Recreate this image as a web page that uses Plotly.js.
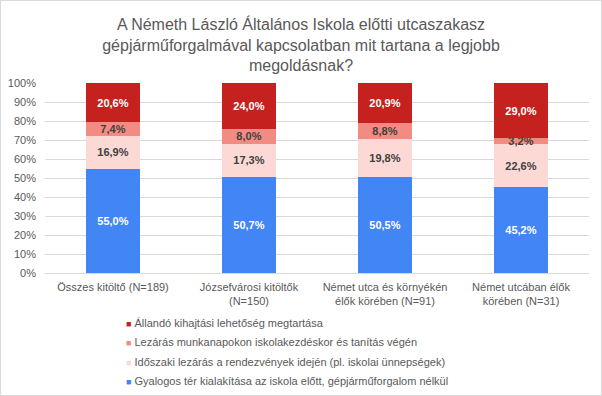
<!DOCTYPE html>
<html>
<head>
<meta charset="utf-8">
<script src="https://cdn.plot.ly/plotly-3.0.1.min.js"></script>
<style>
  html, body { margin: 0; padding: 0; background: #fff; }
  #wrap { width: 602px; height: 396px; box-sizing: border-box; border: 1px solid #d9d9d9; }
  #chart { width: 600px; height: 394px; }
</style>
</head>
<body>
<div id="wrap"><div id="chart"></div></div>
<script>
const categories = [
  "Összes kitöltő (N=189)",
  "Józsefvárosi kitöltők<br>(N=150)",
  "Német utca és környékén<br>élők körében (N=91)",
  "Német utcában élők<br>körében (N=31)"
];
const seriesNames = [
  "Gyalogos tér kialakítása az iskola előtt, gépjárműforgalom nélkül",
  "Időszaki lezárás a rendezvények idején (pl. iskolai ünnepségek)",
  "Lezárás munkanapokon iskolakezdéskor és tanítás végén",
  "Állandó kihajtási lehetőség megtartása"
];
const gyalogos = [55.0, 50.7, 50.5, 45.2];
const idoszaki = [16.9, 17.3, 19.8, 22.6];
const lezaras  = [7.4, 8.0, 8.8, 3.2];
const allando  = [20.6, 24.0, 20.9, 29.0];
const seriesValues = [gyalogos, idoszaki, lezaras, allando];
const colors = ["#4285f4", "#fdd9d6", "#f28b82", "#c5221f"];
const textColors = ["#ffffff", "#404040", "#404040", "#ffffff"];
const yTicks = [0,10,20,30,40,50,60,70,80,90,100];

const traces = seriesValues.map((vals, i) => ({
  type: "bar",
  name: seriesNames[i],
  x: categories,
  y: vals,
  marker: { color: colors[i], line: { width: 0 } },
  texttemplate: "%{y:.1f}%",
  textposition: "inside",
  insidetextanchor: "middle",
  textangle: 0,
  textfont: { family: "Liberation Sans, Arial, sans-serif", size: 11, color: textColors[i], weight: "bold" },
  hoverinfo: "skip",
  showlegend: false
}));

// legend drawn as annotations (top: Állandó ... bottom: Gyalogos)
const legendOrder = [3, 2, 1, 0];
const plotH = 190;
const legendAnn = legendOrder.map((si, k) => ({
  xref: "paper", yref: "paper",
  x: 0.146, y: -(50 + k * 19.4) / plotH,
  xanchor: "left", yanchor: "middle",
  showarrow: false, align: "left",
  text: '<span style="color:' + colors[si] + ';font-size:9px">■</span> ' + seriesNames[si],
  font: { family: "Liberation Sans, Arial, sans-serif", size: 11, color: "#595959" }
}));

const layout = {
  width: 600, height: 394,
  margin: { l: 44, r: 12, t: 82, b: 122 },
  paper_bgcolor: "#ffffff", plot_bgcolor: "#ffffff",
  separators: ", ",
  barmode: "stack",
  bargap: 0.6,
  title: {
    text: "A Németh László Általános Iskola előtti utcaszakasz<br>gépjárműforgalmával kapcsolatban mit tartana a legjobb<br>megoldásnak?",
    font: { family: "Liberation Sans, Arial, sans-serif", size: 16, color: "#595959" },
    x: 0.5, xanchor: "center", y: 0.927, yanchor: "top", yref: "container"
  },
  uniformtext: { minsize: 11, mode: "show" },
  xaxis: {
    type: "category",
    tickfont: { family: "Liberation Sans, Arial, sans-serif", size: 11, color: "#595959" },
    showgrid: false, zeroline: false, showline: false, ticks: "",
    ticklabelstandoff: 6, fixedrange: true
  },
  yaxis: {
    range: [0, 100],
    tickvals: yTicks,
    ticktext: yTicks.map(v => v + "%"),
    tickfont: { family: "Liberation Sans, Arial, sans-serif", size: 11, color: "#595959" },
    showgrid: true, gridcolor: "#d9d9d9", gridwidth: 1,
    zeroline: true, zerolinecolor: "#d9d9d9", zerolinewidth: 1,
    showline: false, ticks: "", ticklabelstandoff: 8, fixedrange: true
  },
  annotations: legendAnn,
  showlegend: false
};

Plotly.newPlot("chart", traces, layout, { displayModeBar: false, staticPlot: true });
</script>
</body>
</html>
